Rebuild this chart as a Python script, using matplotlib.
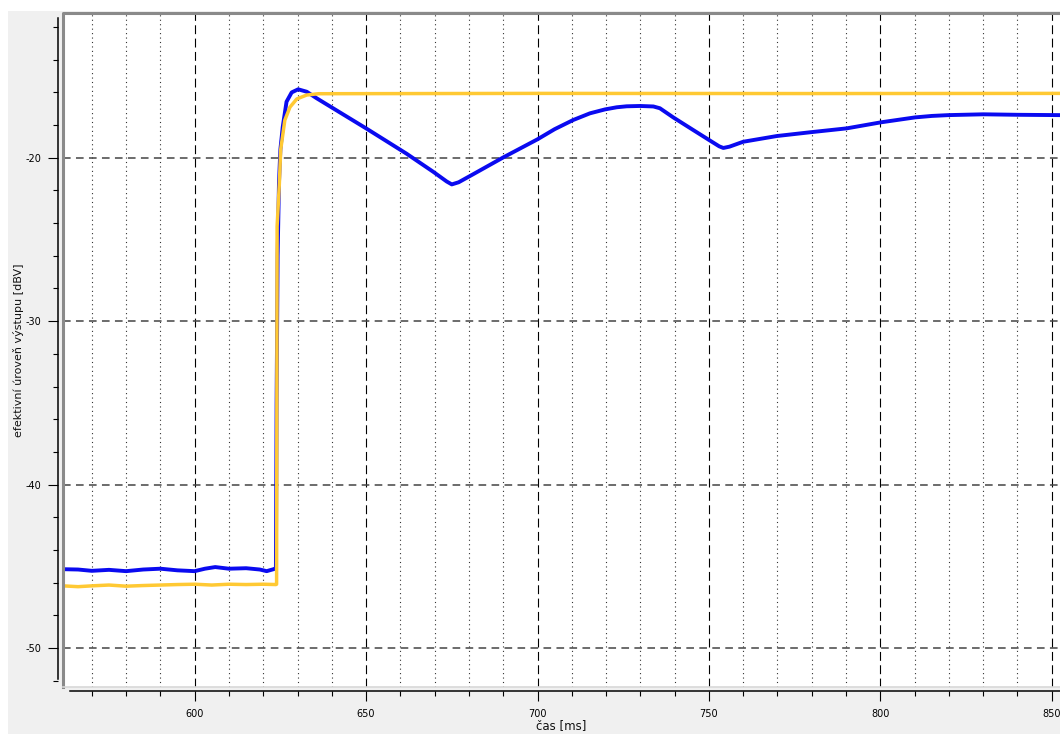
import matplotlib
matplotlib.use("Agg")
import matplotlib.pyplot as plt
from matplotlib.patches import Rectangle
from matplotlib.ticker import MultipleLocator, FixedLocator
from matplotlib.lines import Line2D

# ---- data ----
t_blue = [561.6, 566, 570, 575, 580, 585, 590, 595, 600, 603, 606, 610, 615, 619, 621, 623.5,
          623.7, 623.9, 624.2, 624.6, 625.0, 625.7, 626.8, 628.3, 630.2, 632.7, 635.6,
          650, 661.8, 669.6, 673.5, 675, 677, 681.3, 690, 700, 705, 710.4, 715.3, 719.7,
          723.1, 726, 729.9, 733.8, 735.7, 739.6, 745.4,
          750.1, 753, 754.2, 756, 760, 769.8, 779.5, 790.2, 800.2, 810.1, 815, 819.8, 830,
          840, 852.4]
v_blue = [-45.18, -45.2, -45.28, -45.22, -45.3, -45.2, -45.15, -45.25, -45.3, -45.15, -45.05,
          -45.15, -45.12, -45.2, -45.3, -45.15,
          -45.1, -35.0, -26.0, -21.5, -19.5, -18.1, -16.57, -16.0, -15.81, -15.96, -16.36,
          -18.2, -19.75, -20.86, -21.45, -21.63, -21.5, -21.0, -19.98, -18.87, -18.25, -17.69,
          -17.28, -17.04, -16.91, -16.85, -16.83, -16.86, -16.97, -17.53, -18.3,
          -18.92, -19.3, -19.4, -19.32, -19.02, -18.67, -18.44, -18.2, -17.83, -17.53, -17.44,
          -17.39, -17.34, -17.37, -17.39]

t_orange = [561.6, 566, 570, 575, 580, 585, 590, 595, 600, 605, 610, 615, 620, 623.7,
            623.9, 624.05, 624.7, 625.1, 626.3, 627.8, 629.8, 632.7, 636.1, 700, 780, 852.4]
v_orange = [-46.2, -46.25, -46.2, -46.15, -46.22, -46.18, -46.15, -46.12, -46.1, -46.15,
            -46.1, -46.12, -46.1, -46.12,
            -46.1, -24.2, -21.6, -19.5, -17.7, -16.9, -16.4, -16.16, -16.08, -16.06, -16.07,
            -16.06]

x_major = [600, 650, 700, 750, 800, 850]
y_major = [-50, -40, -30, -20]
x_label = "čas [ms]"
y_label = "efektivní úroveň výstupu [dBV]"

# ---- figure ----
W, H = 1060, 734
fig = plt.figure(figsize=(W / 100, H / 100), dpi=100, facecolor="white")
fig.patches.append(Rectangle((8 / W, 0), 1 - 8 / W, 1 - 11 / H, transform=fig.transFigure,
                             facecolor="#f0f0f0", edgecolor="none", zorder=-10))

L, R, T, B = 63, 1060, 13, 687
ax = fig.add_axes([L / W, 1 - B / H, (R - L) / W, (B - T) / H])
ax.set_facecolor("white")
ax.set_xlim(561.6, 852.4)
ax.set_ylim(-52.39, -11.14)

# grid
ax.xaxis.set_major_locator(FixedLocator(x_major))
ax.xaxis.set_minor_locator(MultipleLocator(10))
ax.yaxis.set_major_locator(FixedLocator(y_major))
ax.yaxis.set_minor_locator(MultipleLocator(2))
ax.grid(which="major", axis="x", color="black", lw=0.8, linestyle=(0, (8, 4)))
ax.grid(which="minor", axis="x", color="#333333", lw=0.8, linestyle=(0, (1, 3)))
ax.grid(which="major", axis="y", color="#444444", lw=1.1, linestyle=(0, (5, 3.5)))
ax.set_axisbelow(True)

# data lines
ax.plot(t_blue, v_blue, color="#0a0af0", lw=2.8, solid_joinstyle="round", zorder=3)
ax.plot(t_orange, v_orange, color="#ffc933", lw=2.5, solid_joinstyle="round", zorder=4)

# spines
for s in ("top", "right"):
    ax.spines[s].set_visible(False)
ax.spines["left"].set_position(("outward", 3.6))
ax.spines["left"].set_color("black")
ax.spines["left"].set_linewidth(1.1)
ax.spines["left"].set_bounds(-51.9, -11.45)
ax.spines["bottom"].set_position(("outward", 3.1))
ax.spines["bottom"].set_color("black")
ax.spines["bottom"].set_linewidth(1.1)
ax.spines["bottom"].set_bounds(563.6, 852.4)

# gray frame of the plot area
ax.add_line(Line2D([0, 0, 1], [0, 1, 1], transform=ax.transAxes, color="#8a8a8a",
                   lw=2.2, clip_on=False, zorder=5))
ax.add_line(Line2D([0, 1], [0, 0], transform=ax.transAxes, color="#d8d8d8",
                   lw=1.2, clip_on=False, zorder=5))

# ticks
ax.tick_params(axis="both", which="major", direction="out", length=7.2, width=0.8,
               color="black", labelsize=7, labelcolor="black")
ax.tick_params(axis="both", which="minor", direction="out", length=3.6, width=0.8,
               color="black")
ax.tick_params(axis="y", which="major", pad=4.7)
ax.tick_params(axis="x", which="major", pad=5.2)
ax.set_xticklabels([str(v) for v in x_major])
ax.set_yticklabels([str(v) for v in y_major])

fig.text(19 / W, 1 - 350 / H, y_label, rotation=90, ha="center", va="center",
         fontsize=8, color="#111111")
fig.text(561 / W, 1 - 726 / H, x_label, ha="center", va="center", fontsize=8.5,
         color="#111111")

fig.savefig("out.png", dpi=100, facecolor="white")
